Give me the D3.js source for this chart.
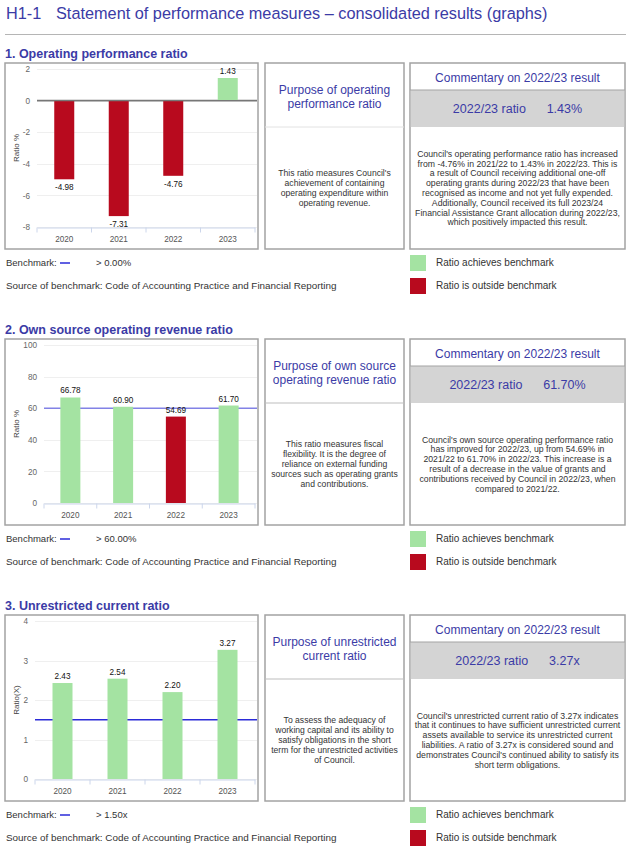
<!DOCTYPE html>
<html>
<head>
<meta charset="utf-8">
<script src="https://cdn.jsdelivr.net/npm/d3@7"></script>
<style>
  body { margin: 0; background: #fff; }
  svg text { font-family: "Liberation Sans", Arial, sans-serif; }
</style>
</head>
<body>
<svg id="page" width="634" height="848"></svg>
<script>
// chart data
var years = ["2020", "2021", "2022", "2023"];
var opRatio = [-4.98, -7.31, -4.76, 1.43];
var ownSource = [66.78, 60.90, 54.69, 61.70];
var unrestricted = [2.43, 2.54, 2.20, 3.27];

var opTicks = [-8, -6, -4, -2, 0, 2];
var ownTicks = [0, 20, 40, 60, 80, 100];
var unrTicks = [0, 1, 2, 3, 4];

var benchmarks = [0, 60, 1.5];
var benchmarkLabels = ["> 0.00%", "> 60.00%", "> 1.50x"];
var ratioValues = ["1.43%", "61.70%", "3.27x"];
var sectionTitles = ["1. Operating performance ratio", "2. Own source operating revenue ratio", "3. Unrestricted current ratio"];
var axisTitles = ["Ratio %", "Ratio %", "Ratio(X)"];

var purposeTitles = [
	["Purpose of operating", "performance ratio"],
	["Purpose of own source", "operating revenue ratio"],
	["Purpose of unrestricted", "current ratio"]
];
var purposeTexts = [
	["This ratio measures Council's", "achievement of containing", "operating expenditure within", "operating revenue."],
	["This ratio measures fiscal", "flexibility. It is the degree of", "reliance on external funding", "sources such as operating grants", "and contributions."],
	["To assess the adequacy of", "working capital and its ability to", "satisfy obligations in the short", "term for the unrestricted activities", "of Council."]
];
var commentTexts = [
	["Council's operating performance ratio has increased", "from -4.76% in 2021/22 to 1.43% in 2022/23. This is", "a result of Council receiving additional one-off", "operating grants during 2022/23 that have been", "recognised as income and not yet fully expended.", "Additionally, Council received its full 2023/24", "Financial Assistance Grant allocation during 2022/23,", "which positively impacted this result."],
	["Council's own source operating performance ratio", "has improved for 2022/23, up from 54.69% in", "2021/22 to 61.70% in 2022/23. This increase is a", "result of a decrease in the value of grants and", "contributions received by Council in 2022/23, when", "compared to 2021/22."],
	["Council's unrestricted current ratio of 3.27x indicates", "that it continues to have sufficient unrestricted current", "assets available to service its unrestricted current", "liabilities. A ratio of 3.27x is considered sound and", "demonstrates Council's continued ability to satisfy its", "short term obligations."]
];

var GREEN = "#a4e3a2", RED = "#b80a1e", TITLE = "#3b3ba6", BORDER = "#a3a3a3";

var svg = d3.select("#page");

// page header
svg.append("text").attr("x", 6).attr("y", 19)
	.attr("font-size", 16.3).attr("fill", TITLE).text("H1-1");
svg.append("text").attr("x", 56).attr("y", 19)
	.attr("font-size", 16.3).attr("fill", TITLE)
	.text("Statement of performance measures \u2013 consolidated results (graphs)");
svg.append("line").attr("x1", 5).attr("x2", 626).attr("y1", 34.5).attr("y2", 34.5)
	.attr("stroke", "#b5b5b5").attr("stroke-width", 1);

var charts = [
	{ values: opRatio, ticks: opTicks, left: 37, benchColor: "#777777" },
	{ values: ownSource, ticks: ownTicks, left: 44, benchColor: "#8282e6" },
	{ values: unrestricted, ticks: unrTicks, left: 35, benchColor: "#2b2bd8" }
];
var boxTops = [63, 339, 615];
var boxH = 186;

charts.forEach(function(c, i) {
	var top = boxTops[i];
	var g = svg.append("g");

	g.append("text").attr("x", 5).attr("y", top - 5)
		.attr("font-size", 12.5).attr("font-weight", "bold").attr("fill", TITLE)
		.text(sectionTitles[i]);

	// boxes
	[[5, 253], [265, 139], [410, 215]].forEach(function(b) {
		g.append("rect").attr("x", b[0]).attr("y", top).attr("width", b[1]).attr("height", boxH)
			.attr("fill", "none").attr("stroke", BORDER).attr("stroke-width", 1.5);
	});

	// chart
	var x = d3.scaleBand().domain(years).range([c.left, 255]).paddingInner(0).paddingOuter(0);
	var y = d3.scaleLinear().domain(d3.extent(c.ticks)).range([top + 164, top + 6]);
	var bw = 20;

	g.selectAll(".grid").data(c.ticks).enter().append("line")
		.attr("x1", c.left).attr("x2", 257)
		.attr("y1", function(d) { return Math.round(y(d)) + 0.5; })
		.attr("y2", function(d) { return Math.round(y(d)) + 0.5; })
		.attr("stroke", "#efefef");

	g.append("line").attr("x1", c.left).attr("x2", 257)
		.attr("y1", y(benchmarks[i])).attr("y2", y(benchmarks[i]))
		.attr("stroke", c.benchColor).attr("stroke-width", 1.5);

	g.selectAll(".bar").data(c.values).enter().append("rect")
		.attr("x", function(d, j) { return x(years[j]) + x.bandwidth() / 2 - bw / 2; })
		.attr("width", bw)
		.attr("y", function(d) { return Math.min(y(d), y(0)); })
		.attr("height", function(d) { return Math.abs(y(d) - y(0)); })
		.attr("fill", function(d) { return d > benchmarks[i] ? GREEN : RED; });

	if (i == 0) {
		g.append("line").attr("x1", c.left).attr("x2", 257)
			.attr("y1", y(0)).attr("y2", y(0))
			.attr("stroke", "#777777").attr("stroke-width", 1.2);
	}

	g.selectAll(".lbl").data(c.values).enter().append("text")
		.attr("x", function(d, j) { return x(years[j]) + x.bandwidth() / 2; })
		.attr("y", function(d) { return d < 0 ? y(d) + 11 : y(d) - 4; })
		.attr("text-anchor", "middle")
		.attr("font-family", "DejaVu Sans").attr("font-size", 8.2).attr("fill", "#111")
		.text(function(d) { return d.toFixed(2); });

	// x axis
	var xa = g.append("g").attr("transform", "translate(0," + (top + 164.5) + ")")
		.call(d3.axisBottom(x).tickSize(0).tickPadding(9));
	xa.select(".domain").attr("stroke", "#ccd6eb");
	xa.selectAll("text").attr("font-family", "DejaVu Sans").attr("font-size", 8.2).attr("fill", "#555");
	xa.selectAll(".btick").data(years.concat(["end"])).enter().append("line")
		.attr("x1", function(d, j) { return c.left + j * x.bandwidth(); })
		.attr("x2", function(d, j) { return c.left + j * x.bandwidth(); })
		.attr("y1", 0).attr("y2", 5).attr("stroke", "#ccd6eb");

	// y axis
	var ya = g.append("g").attr("transform", "translate(" + (c.left - 4) + ",0)")
		.call(d3.axisLeft(y).tickValues(c.ticks).tickSize(0).tickPadding(3)
			.tickFormat(function(d) { return String(d); }));
	ya.select(".domain").remove();
	ya.selectAll("text").attr("font-family", "DejaVu Sans").attr("font-size", 8.2).attr("fill", "#666");

	g.append("text")
		.attr("transform", "translate(19," + (top + 85) + ") rotate(-90)")
		.attr("text-anchor", "middle")
		.attr("font-family", "DejaVu Sans").attr("font-size", 8).attr("fill", "#444")
		.text(axisTitles[i]);

	// purpose box
	g.append("line").attr("x1", 265).attr("x2", 404).attr("y1", top + 64).attr("y2", top + 64)
		.attr("stroke", i == 0 ? "#e2e2e2" : "#bdbdbd");
	purposeTitles[i].forEach(function(t, k) {
		g.append("text").attr("x", 334.5).attr("y", top + 31 + k * 13.5)
			.attr("text-anchor", "middle").attr("font-size", 12).attr("fill", TITLE).text(t);
	});
	var pt = purposeTexts[i];
	pt.forEach(function(t, k) {
		g.append("text").attr("x", 334.5)
			.attr("y", top + 125 - (pt.length - 1) * 5 + k * 10 + 3)
			.attr("text-anchor", "middle").attr("font-size", 8.6).attr("fill", "#333").text(t);
	});

	// commentary box
	g.append("rect").attr("x", 410.75).attr("y", top + 27).attr("width", 213.5).attr("height", 37)
		.attr("fill", "#d4d4d4");
	g.append("line").attr("x1", 410).attr("x2", 625).attr("y1", top + 27).attr("y2", top + 27)
		.attr("stroke", BORDER).attr("stroke-width", 1.2);
	g.append("text").attr("x", 517.5).attr("y", top + 19)
		.attr("text-anchor", "middle").attr("font-size", 12).attr("fill", TITLE)
		.text("Commentary on 2022/23 result");
	g.append("text").attr("x", 517.5).attr("y", top + 50)
		.attr("text-anchor", "middle").attr("font-size", 12.5).attr("fill", TITLE)
		.text("2022/23 ratio\u00A0\u00A0\u00A0\u00A0\u00A0 " + ratioValues[i]);
	var ct = commentTexts[i];
	ct.forEach(function(t, k) {
		g.append("text").attr("x", 517.5)
			.attr("y", top + 125 - (ct.length - 1) * 4.9 + k * 9.8 + 3)
			.attr("text-anchor", "middle").attr("font-size", 8.7).attr("fill", "#333").text(t);
	});

	// legend rows
	var ly = top + boxH;
	g.append("text").attr("x", 6).attr("y", ly + 17).attr("font-size", 9.5).attr("fill", "#333").text("Benchmark:");
	g.append("line").attr("x1", 60).attr("x2", 70).attr("y1", ly + 14).attr("y2", ly + 14)
		.attr("stroke", "#2b2bd8").attr("stroke-width", 1.5);
	g.append("text").attr("x", 96).attr("y", ly + 17).attr("font-size", 9.5).attr("fill", "#333").text(benchmarkLabels[i]);
	g.append("text").attr("x", 6).attr("y", ly + 40).attr("font-size", 9.9).attr("fill", "#333")
		.text("Source of benchmark: Code of Accounting Practice and Financial Reporting");
	g.append("rect").attr("x", 410).attr("y", ly + 6).attr("width", 16).attr("height", 16).attr("fill", GREEN);
	g.append("rect").attr("x", 410).attr("y", ly + 29).attr("width", 16).attr("height", 16).attr("fill", RED);
	g.append("text").attr("x", 436).attr("y", ly + 17).attr("font-size", 10).attr("fill", "#333").text("Ratio achieves benchmark");
	g.append("text").attr("x", 436).attr("y", ly + 40).attr("font-size", 10).attr("fill", "#333").text("Ratio is outside benchmark");
});
</script>
</body>
</html>
